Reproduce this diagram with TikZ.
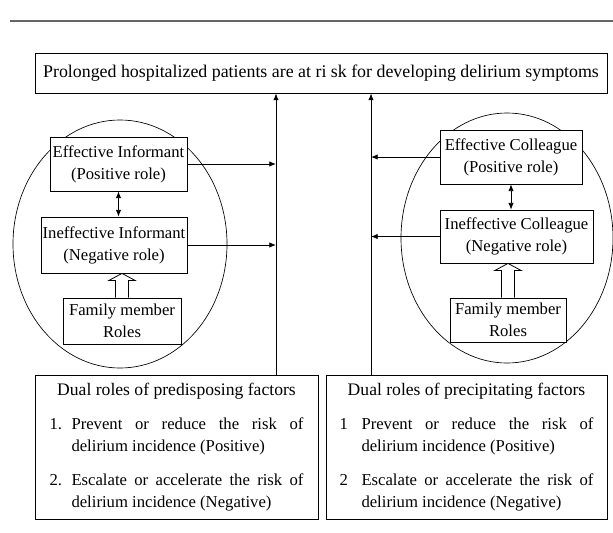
\documentclass[tikz,border=0pt]{standalone}
\usepackage{fontspec}
\setmainfont{Liberation Serif}
\usetikzlibrary{arrows,arrows.meta,calc,positioning,shapes}
\newcommand{\dualitem}[2]{\par\hangindent=16.5pt\hangafter=1\noindent\makebox[16.5pt][l]{#1}#2\par}
\tikzset{
    diagram/.style={>={Latex[length=5pt,width=4pt]}, x=0.75pt, y=-0.75pt, line width=0.6pt,
                    font=\fontsize{12.5}{16.5}\selectfont},
    rolebox/.style={rectangle, draw, fill=white, align=center, inner sep=1pt},
    factorbox/.style={rectangle, draw, text width=190.5pt, align=justify,
                      inner sep=0pt, minimum height=108pt},
    group/.style={ellipse, draw, line width=0.5pt},
    spine/.style={->, line width=0.7pt},
    hollow/.style={draw, fill=white, line width=0.6pt},
    }
\begin{document}
\begin{tikzpicture}[diagram]
    \useasboundingbox (0,0) rectangle (613,532);
    \draw[black!60, line width=1.2pt] (10,21) -- (613,21);

    \node[rolebox, minimum width=429pt, minimum height=30pt, font=\fontsize{13.4}{16.5}\selectfont] (risk) at (321,73)
        {Prolonged hospitalized patients are at ri sk for developing delirium symptoms};

    % informant side
    \node[group, minimum width=160.5pt, minimum height=186pt] (ellL) at (120,244) {};
    \node[rolebox, minimum width=102.75pt, minimum height=40.5pt] (effinf) at (118.5,164)
        {Effective Informant\\(Positive role)};
    \node[rolebox, minimum width=109.5pt, minimum height=42pt] (ineffinf) at (114,245)
        {Ineffective Informant\\(Negative role)};
    \node[rolebox, minimum width=88.5pt, minimum height=34.5pt] (famL) at (122,321)
        {Family member\\Roles};

    % colleague side
    \node[group, minimum width=159pt, minimum height=187.5pt] (ellR) at (507,238) {};
    \node[rolebox, minimum width=106.5pt, minimum height=40.5pt] (effcol) at (511,157)
        {Effective Colleague\\(Positive role)};
    \node[rolebox, minimum width=114.75pt, minimum height=39.75pt] (ineffcol) at (516.5,236.5)
        {Ineffective Colleague\\(Negative role)};
    \node[rolebox, minimum width=87pt, minimum height=33pt] (famR) at (508,320)
        {Family member\\Roles};

    % factor boxes
    \node[factorbox, minimum width=212.25pt] (pred) at (176.5,447)
        {{\centering\fontsize{13.2}{16.5}\selectfont Dual roles of predisposing factors\par}\vspace{9pt}
         \dualitem{1.}{Prevent or reduce the risk of\linebreak delirium incidence (Positive)}\vspace{9pt}
         \dualitem{2.}{Escalate or accelerate the risk of\linebreak delirium incidence (Negative)}};
    \node[factorbox, minimum width=210.75pt] (prec) at (466.5,447)
        {{\centering\fontsize{13.2}{16.5}\selectfont Dual roles of precipitating factors\par}\vspace{9pt}
         \dualitem{1}{Prevent or reduce the risk of\linebreak delirium incidence (Positive)}\vspace{9pt}
         \dualitem{2}{Escalate or accelerate the risk of\linebreak delirium incidence (Negative)}};

    \coordinate (spineL) at (pred.north -| 276,0);
    \coordinate (spineR) at (prec.north -| 371,0);

    \draw[spine] (spineL) -- (spineL |- risk.south);
    \draw[spine] (spineR) -- (spineR |- risk.south);
    \draw[->] (effinf.east) -- (effinf.east -| spineL);
    \draw[->] (ineffinf.east) -- (ineffinf.east -| spineL);
    \draw[->] (effcol.west) -- (effcol.west -| spineR);
    \draw[->] (ineffcol.west) -- (ineffcol.west -| spineR);
    \draw[<->] (effinf.south) -- (effinf.south |- ineffinf.north);
    \draw[<->] (effcol.south) -- (effcol.south |- ineffcol.north);

    % open arrows from the family roles
    \draw[hollow] ($(famL.north)+(-6.5,0)$) |- ($(ineffinf.south -| famL.north)+(-13,7)$)
        -- (ineffinf.south -| famL.north) -- ++(13,7) -| ($(famL.north)+(6.5,0)$);
    \draw[hollow] ($(famR.north)+(-6.5,0)$) |- ($(ineffcol.south -| famR.north)+(-13,7)$)
        -- (ineffcol.south -| famR.north) -- ++(13,7) -| ($(famR.north)+(6.5,0)$);
\end{tikzpicture}
\end{document}
